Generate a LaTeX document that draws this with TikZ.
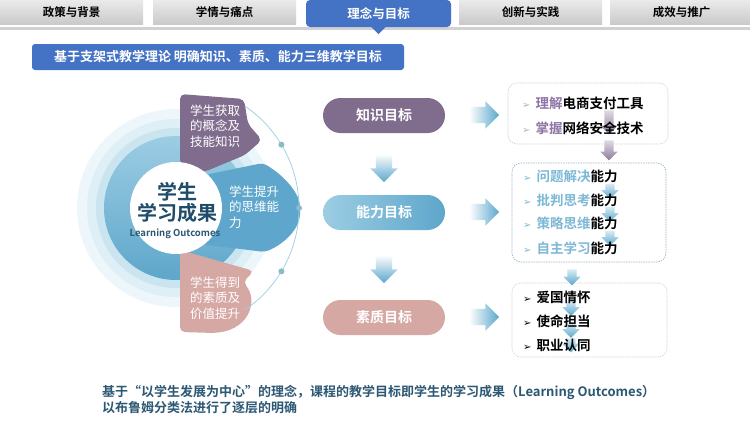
\documentclass[tikz,border=0pt]{standalone}
\usepackage{fontspec}
\setmainfont{Noto Sans CJK SC}[BoldFont={Noto Sans CJK SC Bold}]
\newfontfamily\symfont{DejaVu Sans}
\usetikzlibrary{calc,shapes.arrows}
\definecolor{tabblue}{HTML}{4472C4}
\definecolor{purp}{HTML}{806C8D}
\definecolor{skyb}{HTML}{5EA6CB}
\definecolor{skyl}{HTML}{9CCDE3}
\definecolor{rose}{HTML}{D6A8A4}
\definecolor{ink}{HTML}{2D5874}
\definecolor{hubink}{HTML}{1F4C68}
\definecolor{purptext}{HTML}{8F74A6}
\definecolor{skytext}{HTML}{7DB9D6}
\definecolor{arrowb}{HTML}{5AA7CC}
\newcommand\arrbul[1]{{\symfont\fontsize{10}{10}\selectfont\color{#1}➢}\hspace{5pt}}
\tikzset{
  tabbox/.style={minimum width=143pt, minimum height=24pt, inner sep=0pt,
    top color=white!92!black, bottom color=white!79!black,
    font=\bfseries\fontsize{11.5}{12}\selectfont},
  tabon/.style={minimum width=145pt, minimum height=27pt, inner sep=0pt,
    fill=tabblue, rounded corners=4pt, text=white,
    font=\bfseries\fontsize{12.5}{13}\selectfont},
  sepline/.style={line width=3pt, white!82!black},
  banner/.style={minimum width=372pt, minimum height=26pt, inner sep=0pt,
    fill=tabblue, rounded corners=3pt, text=white,
    font=\bfseries\fontsize{13}{14}\selectfont},
  pill/.style={minimum width=122pt, minimum height=35pt, inner sep=0pt,
    rounded corners=17.5pt, text=white, font=\bfseries\fontsize{14}{15}\selectfont},
  fatarrow/.style={single arrow, single arrow head extend=5.5pt, inner sep=8pt,
    minimum height=30pt, left color=white, right color=arrowb},
  dnarrow/.style={single arrow, shape border rotate=270, single arrow head extend=5.5pt,
    inner sep=8pt, minimum height=28pt, top color=white, bottom color=arrowb},
  tinyarrow/.style={single arrow, shape border rotate=270, single arrow head extend=4pt,
    inner sep=4.5pt, minimum height=#1, top color=skyl!40, bottom color=arrowb},
  tinypurp/.style={tinyarrow=#1, top color=purp!25, bottom color=purp!90},
  goalbox/.style={draw, dash pattern=on 1.5pt off 1pt, line width=0.6pt,
    rounded corners=9pt, inner sep=0pt},
  item/.style={anchor=west, inner sep=0pt, font=\bfseries\fontsize{13.5}{14}\selectfont},
  wheeltext/.style={align=left, inner sep=0pt, text=white,
    font=\fontsize{12.5}{15.5}\selectfont},
  hub/.style={inner sep=0pt, text=hubink, font=\bfseries\fontsize{20}{21}\selectfont}
}
\begin{document}
\begin{tikzpicture}[x=1pt,y=-1pt]
  \useasboundingbox (0,0) rectangle (750,421);
  \fill[white] (0,0) rectangle (750,421);

  % Tabs
  \draw[sepline] (0,28.5) -- (750,28.5);
  \foreach \x/\t [count=\i] in {71.5/政策与背景,224.5/学情与痛点,530.5/创新与实践,681.5/成效与推广}
    \node[tabbox] (tab\i) at (\x,12) {\t};
  \node[tabon] (tabnow) at (378.5,13.5) {理念与目标};
  \fill[tabblue] ($(tabnow.south)+(-8,-1)$) -- ($(tabnow.south)+(8,-1)$)
    -- ($(tabnow.south)+(0,7)$) -- cycle;
  \node[banner] (head) at (218,57) {基于支架式教学理论 明确知识、素质、能力三维教学目标};

  % Learning outcomes wheel
  \coordinate (C) at (176,208);
  \fill[skyl!18] (C) circle (99);
  \fill[skyl!32] (C) circle (89);
  \fill[skyl!52] (C) circle (80);
  \shade[top color=skyl, bottom color=skyb] (C) circle (72);
  \fill[purp, rounded corners=5] (180,165) -- (180,94) -- (244,99) -- (248,124)
    -- (262,140) -- (245,155) -- (204,172) -- cycle;
  \fill[skyb, rounded corners=4] (200,176) -- (263,163) .. controls (288,178) and (300,196) .. (300,210)
    .. controls (300,226) and (288,242) .. (265,252) -- (200,244) -- cycle;
  \fill[rose, rounded corners=5] (180,250) -- (254,271) -- (243,282)
    .. controls (258,300) and (250,328) .. (215,333) -- (180,332) -- cycle;
  \fill[white] (C) circle (46);
  \draw[skyl, line width=0.7pt] (C) ++(-56:123) arc[start angle=-56, end angle=56, radius=123];
  \foreach \a in {-31,0,31} \fill[skyl!90!black] (C) ++(\a:123) circle (3);

  \node[hub] (hubA) at (177,192) {学生};
  \node[hub] (hubB) at (177,213) {学习成果};
  \node[hub, text=ink, font=\bfseries\fontsize{9.5}{10}\selectfont] (hubC) at (175,234) {Learning Outcomes};
  \node[wheeltext] (wA) at (215,126) {学生获取\\的概念及\\技能知识};
  \node[wheeltext, anchor=west] (wB) at (229,207) {学生提升\\的思维能\\力};
  \node[wheeltext] (wC) at (215,298) {学生得到\\的素质及\\价值提升};

  % Goal pills
  \node[pill, fill=purp] (know) at (384,115.5) {知识目标};
  \node[pill, left color=skyl, right color=skyb] (abil) at (384,212.5) {能力目标};
  \node[pill, fill=rose] (qual) at (384,317.5) {素质目标};
  \node[dnarrow] (dA) at ($(know.south)!0.5!(abil.north)$) {};
  \node[dnarrow] (dB) at ($(abil.south)!0.5!(qual.north)$) {};
  \foreach \n/\y in {know/115,abil/212,qual/317}
    \node[fatarrow] (r\n) at (480,\y) {};

  % Goal boxes
  \node[goalbox, draw=purp!35, minimum width=160pt, minimum height=61pt] (goalA) at (588,113.5) {};
  \node[goalbox, draw=skyb!55!gray!70, minimum width=154pt, minimum height=99pt] (goalB) at (589,212.5) {};
  \node[goalbox, draw=rose!60, minimum width=155pt, minimum height=74pt] (goalC) at (589.5,320) {};
  \node[tinypurp=24pt] (pA) at (609,120) {};
  \node[tinypurp=20pt] (pB) at (609,148) {};
  \foreach \y [count=\i] in {189,212,236}
    \node[tinyarrow=15pt] (bA\i) at (610,\y) {};
  \node[tinyarrow=16pt] (bB) at (572,275) {};
  \foreach \y/\l [count=\i] in {306/15pt,328/15pt,343/12pt}
    \node[tinyarrow=\l] (bC\i) at (571,\y) {};

  \node[item] (kA) at (522,103) {\arrbul{purptext!60}\textcolor{purptext}{理解}电商支付工具};
  \node[item] (kB) at (522,128) {\arrbul{purptext!60}\textcolor{purptext}{掌握}网络安全技术};
  \foreach \t/\y [count=\i] in {问题解决/176,批判思考/200,策略思维/223,自主学习/248}
    \node[item] (aB\i) at (523,\y) {\arrbul{skytext}\textcolor{skytext}{\t}能力};
  \foreach \t/\y [count=\i] in {爱国情怀/297,使命担当/321,职业认同/345}
    \node[item] (qC\i) at (523,\y) {\arrbul{black}\t};

  % Bottom note
  \node[item, text=ink, font=\bfseries\fontsize{13}{14}\selectfont] (noteA) at (102,392)
    {基于“以学生发展为中心”的理念，课程的教学目标即学生的学习成果（Learning Outcomes）};
  \node[item, text=ink, font=\bfseries\fontsize{13}{14}\selectfont] (noteB) at (102,408)
    {以布鲁姆分类法进行了逐层的明确};
\end{tikzpicture}
\end{document}
